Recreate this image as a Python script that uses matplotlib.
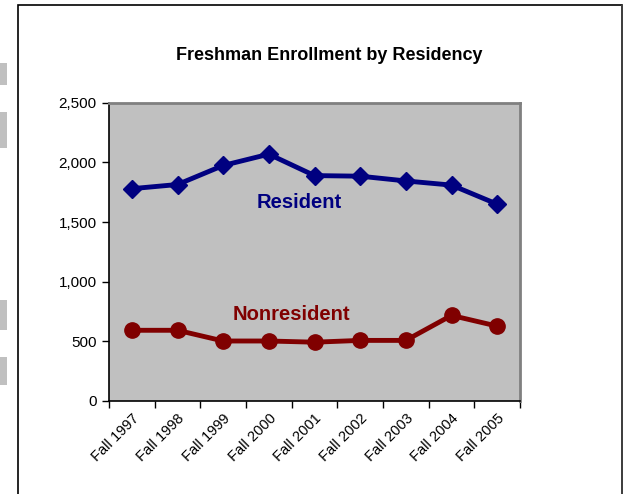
import matplotlib
matplotlib.use("Agg")
import matplotlib.pyplot as plt
import matplotlib.transforms as mtransforms
from matplotlib.patches import Rectangle
from matplotlib.ticker import FuncFormatter, FixedLocator

categories = ["Fall 1997", "Fall 1998", "Fall 1999", "Fall 2000", "Fall 2001",
              "Fall 2002", "Fall 2003", "Fall 2004", "Fall 2005"]
resident = [1780, 1815, 1975, 2070, 1890, 1885, 1845, 1810, 1650]
nonresident = [590, 590, 500, 500, 490, 505, 505, 715, 625]
y_ticks = [0, 500, 1000, 1500, 2000, 2500]

plt.rcParams['font.family'] = ['Liberation Sans', 'DejaVu Sans']

W, H = 624, 494
fig = plt.figure(figsize=(W / 100, H / 100), dpi=100)
fig.patch.set_facecolor("white")

def fx(px):
    return px / W

def fy(py):
    return 1 - py / H

# outer chart frame
fig.patches.append(Rectangle((fx(17.5), fy(500)), fx(622) - fx(17.5), fy(5) - fy(500),
                             transform=fig.transFigure, fill=False,
                             edgecolor="black", linewidth=1.2))
fig.patches.append(Rectangle((fx(621), fy(500)), fx(2), fy(5) - fy(500),
                             transform=fig.transFigure, facecolor="#404040",
                             edgecolor="none"))
# left edge fragments of neighbouring content
for (y0, y1) in [(63, 85), (112, 148), (300, 330), (357, 385)]:
    fig.patches.append(Rectangle((0, fy(y1)), fx(7), fy(y0) - fy(y1),
                                 transform=fig.transFigure, facecolor="#C0C0C0",
                                 edgecolor="none"))

ax = fig.add_axes([fx(109), fy(400.5), fx(520) - fx(109), fy(103) - fy(400.5)])
ax.set_facecolor("#C0C0C0")

x = list(range(len(categories)))
ax.plot(x, resident, color="#000080", linewidth=3.5, marker="D", markersize=9,
        markerfacecolor="#000080", markeredgecolor="#000080", zorder=3)
ax.plot(x, nonresident, color="#800000", linewidth=3.5, marker="o", markersize=11,
        markerfacecolor="#800000", markeredgecolor="#800000", zorder=3)

ax.set_xlim(-0.5, len(categories) - 0.5)
ax.set_ylim(0, 2500)
ax.yaxis.set_major_locator(FixedLocator(y_ticks))
ax.yaxis.set_major_formatter(FuncFormatter(lambda v, p: f"{int(v):,}"))
ax.set_xticks(x)
ax.set_xticklabels(categories, rotation=45, ha="right", rotation_mode="anchor",
                   fontsize=10.5)
offset = mtransforms.ScaledTranslation(-5 / 100, 0, fig.dpi_scale_trans)
for lbl in ax.get_xticklabels():
    lbl.set_transform(lbl.get_transform() + offset)
ax.tick_params(axis="x", length=0, pad=8)
ax.set_xticks([i - 0.5 for i in range(len(categories) + 1)], minor=True)
ax.tick_params(axis="x", which="minor", length=5, width=1, color="black")
ax.tick_params(axis="y", length=5, width=1, labelsize=11, pad=4)

for side in ["top", "right"]:
    ax.spines[side].set_color("#808080")
    ax.spines[side].set_linewidth(2)
for side in ["left", "bottom"]:
    ax.spines[side].set_color("black")
    ax.spines[side].set_linewidth(1.2)

ax.text(3.66, 1665, "Resident", color="#000080", fontsize=14.5,
        fontweight="bold", ha="center", va="center")
ax.text(3.49, 720, "Nonresident", color="#800000", fontsize=14.5,
        fontweight="bold", ha="center", va="center")

fig.text(fx(329.5), fy(56), "Freshman Enrollment by Residency", fontsize=13,
         fontweight="bold", ha="center", va="center")

fig.savefig("out.png", dpi=100)
